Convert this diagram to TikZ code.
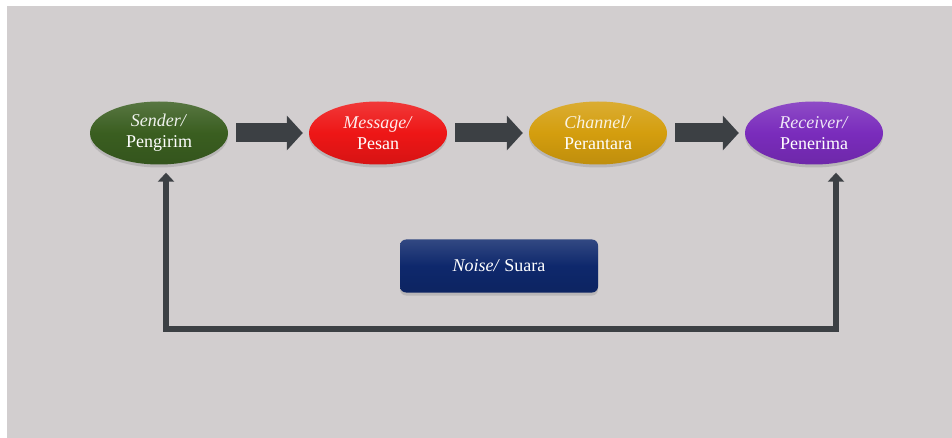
\documentclass[tikz,border=0pt]{standalone}
\usepackage{fontspec}
\setmainfont{Liberation Serif}
\usetikzlibrary{shapes.geometric,arrows.meta,shadows}
\definecolor{bg}{RGB}{210,206,207}
\definecolor{arr}{RGB}{60,64,68}
\definecolor{sgreen}{RGB}{58,94,32}
\definecolor{mred}{RGB}{238,22,22}
\definecolor{cgold}{RGB}{212,158,14}
\definecolor{rpurple}{RGB}{122,44,188}
\definecolor{nblue}{RGB}{14,40,108}

\begin{document}
\begin{tikzpicture}[x=1pt, y=-1pt,
  oval/.style={ellipse, minimum width=138pt, minimum height=63pt, inner sep=0pt,
    align=center, text=white, font=\fontsize{18}{21}\selectfont,
    drop shadow={shadow xshift=0pt, shadow yshift=-3pt, opacity=0.3}},
  blk/.style={line width=19pt, arr, -{Triangle[length=16pt, width=34pt]},
    shorten <=8pt, shorten >=6pt},
  fb/.style={line width=6pt, arr,
    {Triangle[length=9pt, width=16pt]}-{Triangle[length=9pt, width=16pt]}}]
  \useasboundingbox (0,0) rectangle (952,438);
  \fill[bg] (7,6) rectangle (952,438);

  \node[oval, top color=sgreen!85!white, bottom color=sgreen!90!black, middle color=sgreen] (S) at (159,133)
    {\textcolor{sgreen!8!white}{\textit{Sender/}}\\ Pengirim};
  \node[oval, top color=mred!85!white, bottom color=mred!90!black, middle color=mred] (M) at (378,133)
    {\textcolor{mred!8!white}{\textit{Message/}}\\ Pesan};
  \node[oval, top color=cgold!85!white, bottom color=cgold!90!black, middle color=cgold] (C) at (598,133)
    {\textcolor{cgold!12!white}{\textit{Channel/}}\\ Perantara};
  \node[oval, top color=rpurple!85!white, bottom color=rpurple!90!black, middle color=rpurple] (R) at (814,133)
    {\textcolor{rpurple!12!white}{\textit{Receiver/}}\\ Penerima};

  \draw[blk] (S) -- (M);
  \draw[blk] (M) -- (C);
  \draw[blk] (C) -- (R);

  \node[rectangle, rounded corners=6pt, minimum width=198pt, minimum height=53pt,
    top color=nblue!85!white, bottom color=nblue!90!black, middle color=nblue, text=white,
    font=\fontsize{18}{21}\selectfont,
    drop shadow={shadow xshift=0pt, shadow yshift=-3pt, opacity=0.3}] (N) at (499,266)
    {\textit{Noise/} Suara};

  \coordinate (B) at (499,329);
  \draw[fb] ([xshift=7pt, yshift=-8pt]S.south) |- (B) -| ([xshift=22pt, yshift=-8pt]R.south);
\end{tikzpicture}
\end{document}
